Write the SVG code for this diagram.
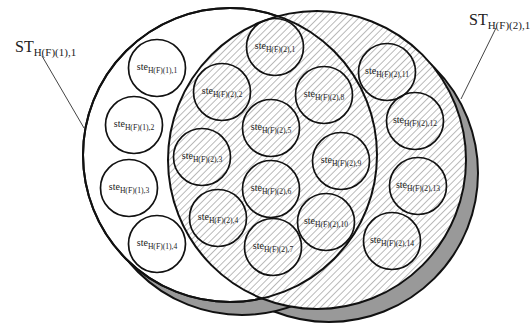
<svg xmlns="http://www.w3.org/2000/svg" width="532" height="325" viewBox="0 0 532 325">
<defs>
<pattern id="hatch" width="4.8" height="4.8" patternUnits="userSpaceOnUse" patternTransform="rotate(45)">
<rect width="4.8" height="4.8" fill="#fff"/>
<line x1="2.4" y1="0" x2="2.4" y2="4.8" stroke="#b3b3b3" stroke-width="0.9"/>
</pattern>
</defs>
<style>
.shadow{fill:#999;stroke:#111;stroke-width:2}
.face{stroke:#111;stroke-width:2}
.ste{fill:none;stroke:#111;stroke-width:1.7}
.lbl{font-family:"Liberation Serif","Times New Roman",serif;font-size:10px;fill:#222;text-anchor:middle}
.lbl tspan{font-size:7.6px}
.big{font-family:"Liberation Serif","Times New Roman",serif;font-size:16px;fill:#222}
.big tspan{font-size:11px}
.lead{stroke:#444;stroke-width:1;fill:none}
</style>
<g id="set-ST-2-shadow"><circle class="shadow" cx="329" cy="173" r="149"/></g>
<g id="set-ST-1-shadow"><circle class="shadow" cx="242" cy="168" r="147"/></g>
<g id="set-ST-1"><circle class="face" cx="230" cy="155" r="147" fill="#fff"/></g>
<g id="set-ST-2"><circle class="face" cx="317" cy="160" r="149" fill="url(#hatch)"/></g>
<g id="set-ST-1-outline"><circle class="face" cx="230" cy="155" r="147" fill="none"/></g>

<g id="connectors">
<line class="lead" x1="42" y1="56" x2="84" y2="128"/>
<line class="lead" x1="496" y1="28" x2="461" y2="99"/>
</g>

<g id="label-ST1"><text class="big" x="15" y="52">ST<tspan dy="4">H(F)(1),1</tspan></text></g>
<g id="label-ST2"><text class="big" x="469" y="25">ST<tspan dy="4">H(F)(2),1</tspan></text></g>

<g id="ste-1-1"><circle class="ste" cx="157" cy="68" r="28.5"/><text class="lbl" x="157" y="70">ste<tspan dy="3">H(F)(1),1</tspan></text></g>
<g id="ste-1-2"><circle class="ste" cx="134" cy="125" r="28.5"/><text class="lbl" x="134" y="127">ste<tspan dy="3">H(F)(1),2</tspan></text></g>
<g id="ste-1-3"><circle class="ste" cx="129" cy="188" r="28.5"/><text class="lbl" x="129" y="190">ste<tspan dy="3">H(F)(1),3</tspan></text></g>
<g id="ste-1-4"><circle class="ste" cx="157" cy="244" r="28.5"/><text class="lbl" x="157" y="246">ste<tspan dy="3">H(F)(1),4</tspan></text></g>

<g id="ste-2-1"><circle class="ste" cx="275" cy="47" r="28.5"/><text class="lbl" x="275" y="49">ste<tspan dy="3">H(F)(2),1</tspan></text></g>
<g id="ste-2-2"><circle class="ste" cx="222" cy="92" r="28.5"/><text class="lbl" x="222" y="94">ste<tspan dy="3">H(F)(2),2</tspan></text></g>
<g id="ste-2-3"><circle class="ste" cx="202" cy="157" r="28.5"/><text class="lbl" x="202" y="159">ste<tspan dy="3">H(F)(2),3</tspan></text></g>
<g id="ste-2-4"><circle class="ste" cx="218" cy="218" r="28.5"/><text class="lbl" x="218" y="220">ste<tspan dy="3">H(F)(2),4</tspan></text></g>
<g id="ste-2-5"><circle class="ste" cx="271" cy="128" r="28.5"/><text class="lbl" x="271" y="130">ste<tspan dy="3">H(F)(2),5</tspan></text></g>
<g id="ste-2-6"><circle class="ste" cx="271" cy="189" r="28.5"/><text class="lbl" x="271" y="191">ste<tspan dy="3">H(F)(2),6</tspan></text></g>
<g id="ste-2-7"><circle class="ste" cx="273" cy="247" r="28.5"/><text class="lbl" x="273" y="249">ste<tspan dy="3">H(F)(2),7</tspan></text></g>
<g id="ste-2-8"><circle class="ste" cx="324" cy="95" r="28.5"/><text class="lbl" x="324" y="97">ste<tspan dy="3">H(F)(2),8</tspan></text></g>
<g id="ste-2-9"><circle class="ste" cx="341" cy="161" r="28.5"/><text class="lbl" x="341" y="163">ste<tspan dy="3">H(F)(2),9</tspan></text></g>
<g id="ste-2-10"><circle class="ste" cx="326" cy="222" r="28.5"/><text class="lbl" x="326" y="224">ste<tspan dy="3">H(F)(2),10</tspan></text></g>
<g id="ste-2-11"><circle class="ste" cx="387" cy="72" r="28.5"/><text class="lbl" x="387" y="74">ste<tspan dy="3">H(F)(2),11</tspan></text></g>
<g id="ste-2-12"><circle class="ste" cx="415" cy="121" r="28.5"/><text class="lbl" x="415" y="123">ste<tspan dy="3">H(F)(2),12</tspan></text></g>
<g id="ste-2-13"><circle class="ste" cx="418" cy="186" r="28.5"/><text class="lbl" x="418" y="188">ste<tspan dy="3">H(F)(2),13</tspan></text></g>
<g id="ste-2-14"><circle class="ste" cx="392" cy="241" r="28.5"/><text class="lbl" x="392" y="243">ste<tspan dy="3">H(F)(2),14</tspan></text></g>
</svg>
